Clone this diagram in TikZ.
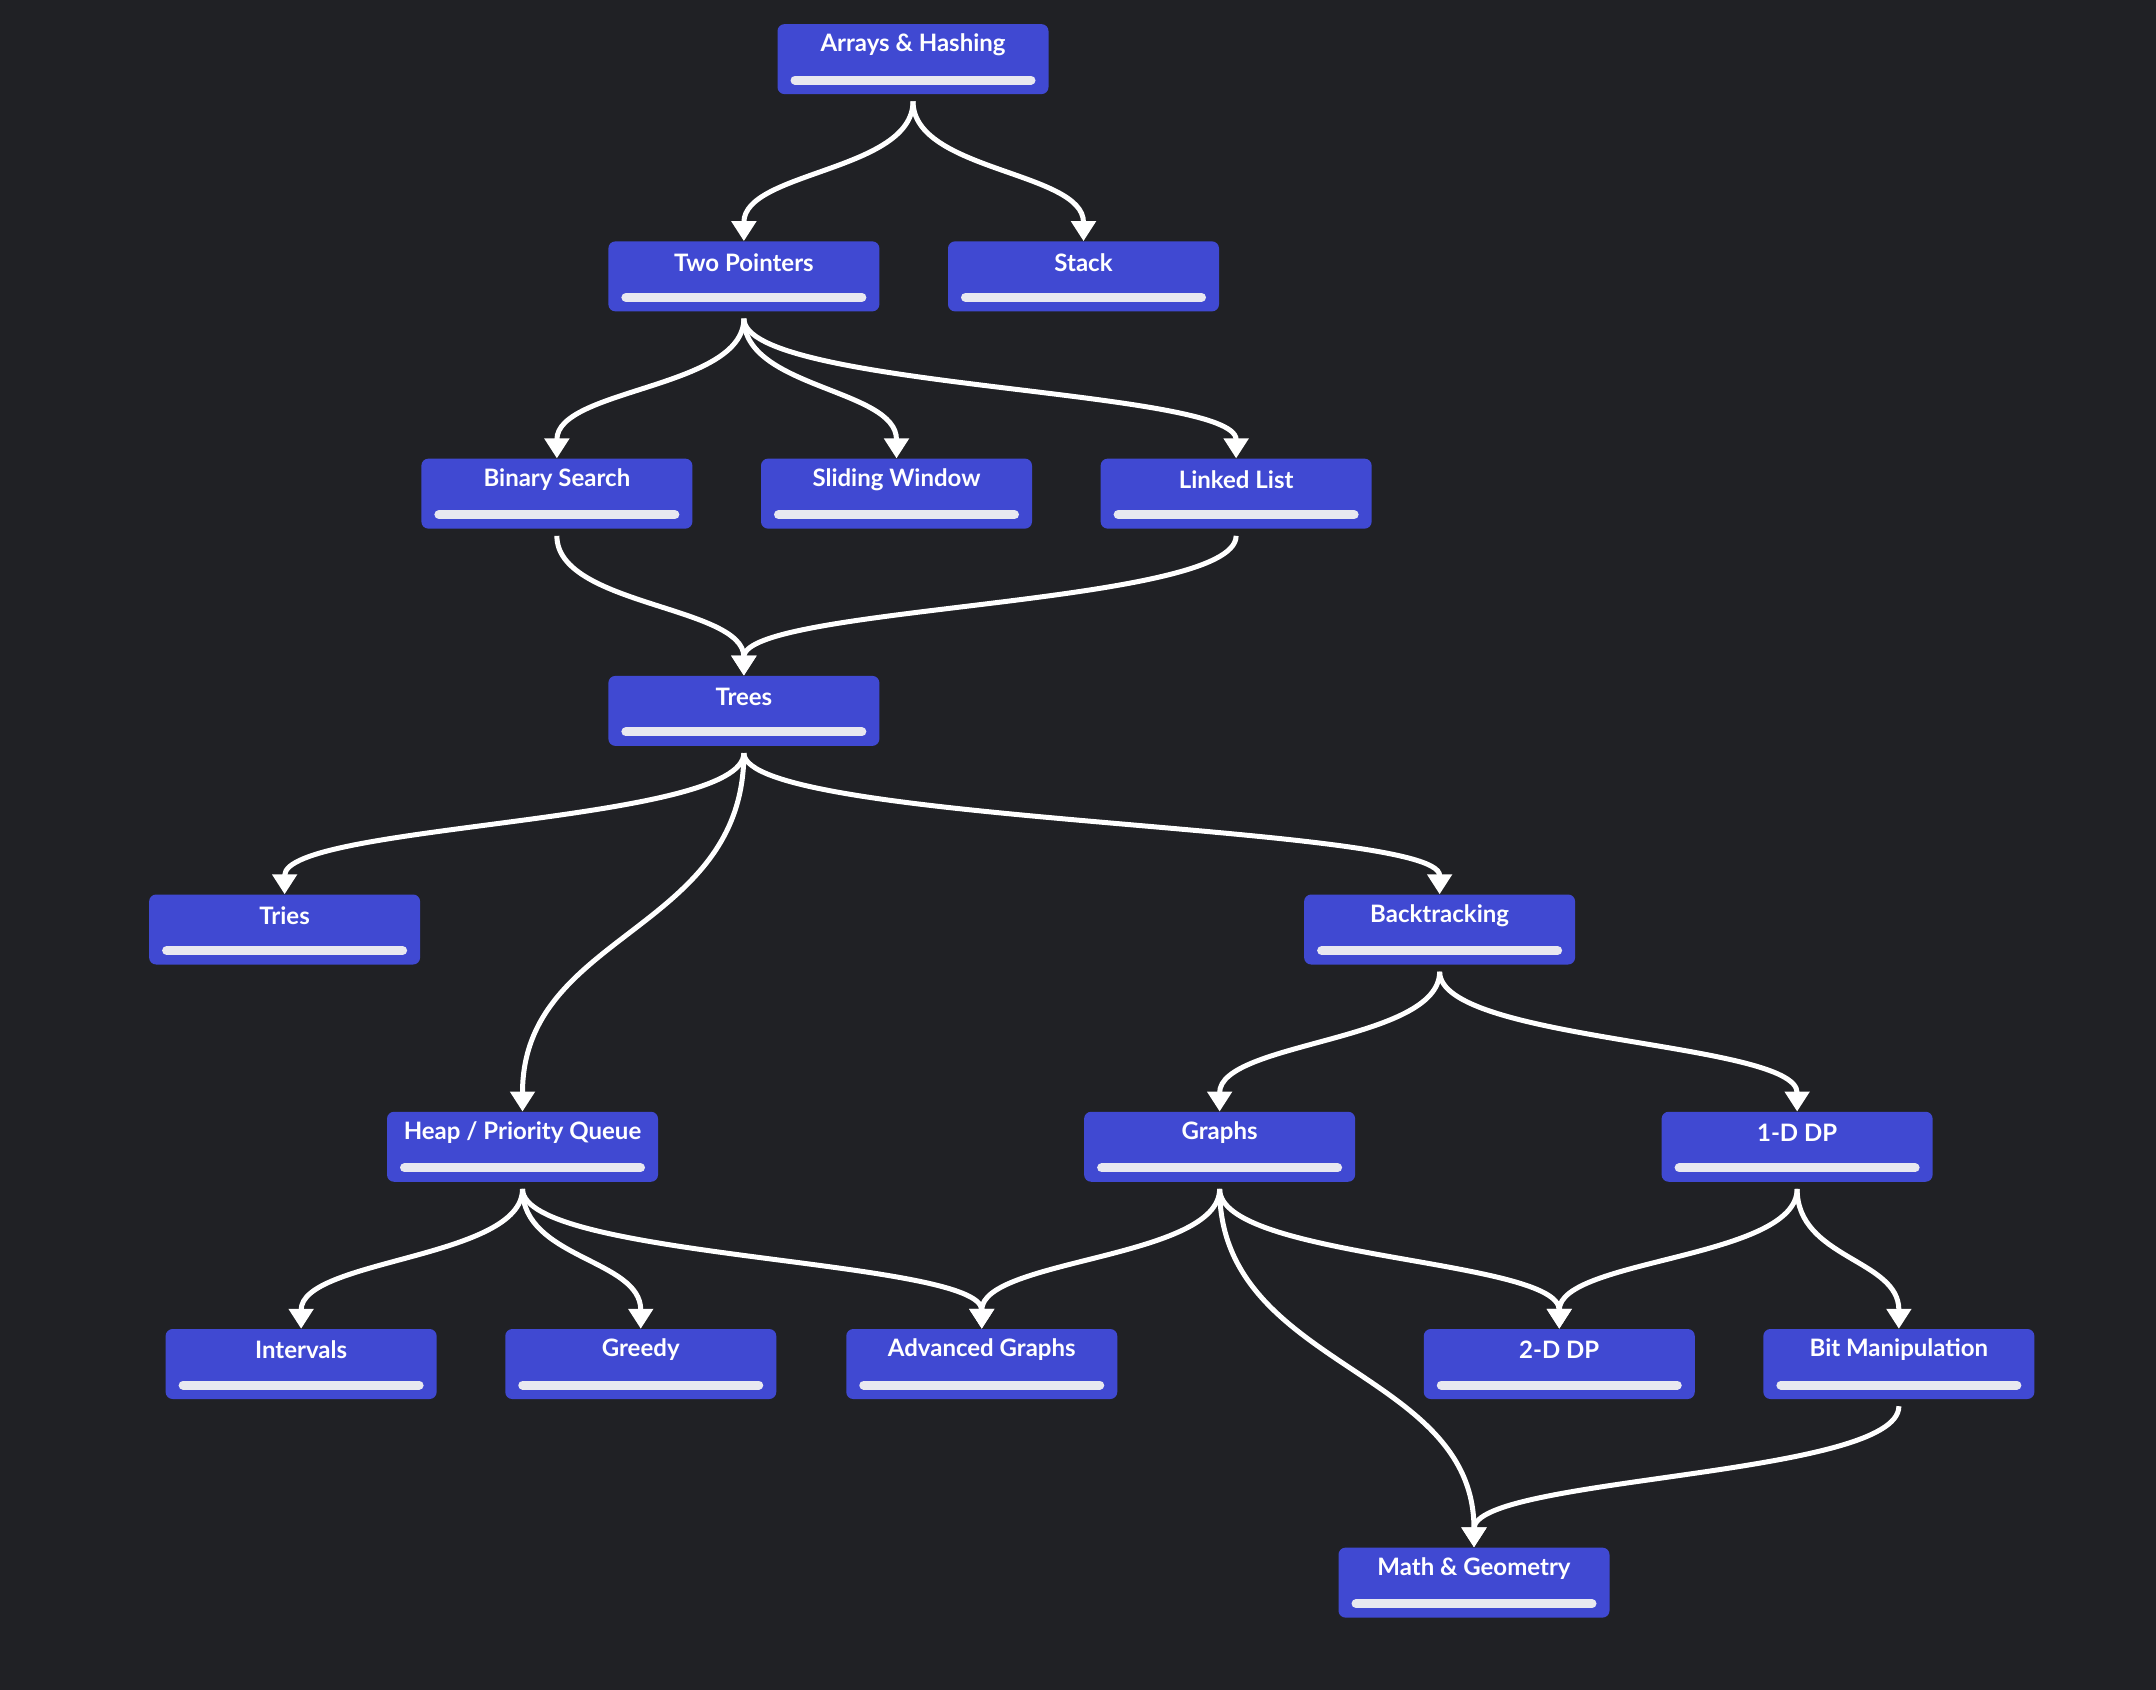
\documentclass[tikz,border=0pt]{standalone}
\usepackage{fontspec}
\setmainfont{Lato}
\usetikzlibrary{arrows.meta,calc}
\definecolor{bg}{HTML}{202125}
\definecolor{boxc}{HTML}{4049D2}
\definecolor{barc}{HTML}{E8E8F0}
\tikzset{
  topic/.style={fill=boxc,rounded corners=7pt,minimum width=271pt,minimum height=70pt,inner sep=0pt},
  lbl/.style={text=white,font=\fontsize{24}{28}\selectfont\bfseries},
  conn/.style={draw=white,line width=5pt,-{Triangle[width=24pt,length=20pt]}}
}
\newcommand\topicnode[4]{%
  \node[topic] (#1) at (#2,#3) {};
  \node[lbl] (#1t) at ([yshift=14pt]#1.center) {#4};
  \draw[line width=9pt,line cap=round,barc] ([xshift=-118pt,yshift=-21pt]#1.center) -- ([xshift=118pt,yshift=-21pt]#1.center);
}
\newcommand\conn[2]{%
  \draw[conn] let \p1=([yshift=-7pt]#1.south), \p2=(#2.north) in
   (\p1) .. controls (\x1,{0.5*(\y1+\y2)}) and (\x2,{0.5*(\y1+\y2)}) .. (\p2);
}
\begin{document}
\begin{tikzpicture}[x=1.375pt,y=-1.375pt]
\fill[bg] (0,0) rectangle (1568,1229);
\topicnode{ah}{664}{43}{Arrays \& Hashing}
\topicnode{tp}{541}{201}{Two Pointers}
\topicnode{st}{788}{201}{Stack}
\topicnode{bs}{405}{359}{Binary Search}
\topicnode{sw}{652}{359}{Sliding Window}
\topicnode{ll}{899}{359}{Linked List}
\topicnode{tr}{541}{517}{Trees}
\topicnode{ti}{207}{676}{Tries}
\topicnode{bt}{1047}{676}{Backtracking}
\topicnode{hp}{380}{834}{Heap / Priority Queue}
\topicnode{gr}{887}{834}{Graphs}
\topicnode{od}{1307}{834}{1-D DP}
\topicnode{iv}{219}{992}{Intervals}
\topicnode{gd}{466}{992}{Greedy}
\topicnode{ag}{714}{992}{Advanced Graphs}
\topicnode{td}{1134}{992}{2-D DP}
\topicnode{bm}{1381}{992}{Bit Manipulation}
\topicnode{mg}{1072}{1151}{Math \& Geometry}
\conn{ah}{tp}\conn{ah}{st}
\conn{tp}{bs}\conn{tp}{sw}\conn{tp}{ll}
\conn{bs}{tr}\conn{ll}{tr}
\conn{tr}{ti}\conn{tr}{hp}\conn{tr}{bt}
\conn{bt}{gr}\conn{bt}{od}
\conn{hp}{iv}\conn{hp}{gd}\conn{hp}{ag}
\conn{gr}{ag}\conn{gr}{td}\conn{gr}{mg}
\conn{od}{td}\conn{od}{bm}
\conn{bm}{mg}
\end{tikzpicture}
\end{document}
